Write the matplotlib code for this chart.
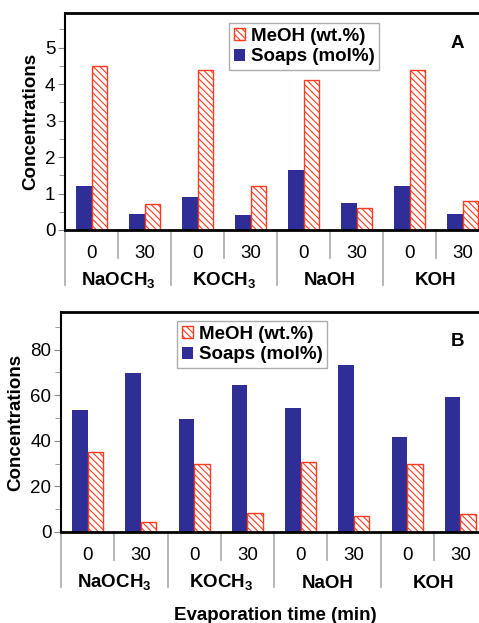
import matplotlib.pyplot as plt
import numpy as np
from matplotlib.ticker import MultipleLocator

plt.rcParams['font.family'] = ['Liberation Sans', 'DejaVu Sans']
plt.rcParams['mathtext.fontset'] = 'custom'
plt.rcParams['mathtext.rm'] = 'Liberation Sans'
plt.rcParams['mathtext.bf'] = 'Liberation Sans:bold'
plt.rcParams['hatch.linewidth'] = 0.8

catalysts = [r'NaOCH$_\mathbf{3}$', r'KOCH$_\mathbf{3}$', 'NaOH', 'KOH']
times = ['0', '30']

# panel A
soaps_a = [1.2, 0.45, 0.9, 0.42, 1.65, 0.75, 1.2, 0.45]
meoh_a = [4.5, 0.7, 4.4, 1.2, 4.1, 0.6, 4.4, 0.8]
# panel B
soaps_b = [53.5, 69.8, 49.7, 64.3, 54.5, 73.2, 41.8, 59.2]
meoh_b = [35.0, 4.2, 30.0, 8.5, 30.8, 6.8, 30.0, 7.8]

BLUE = '#2e2e96'
RED = '#ff3b1f'
W, H = 479, 623


def panel(rect_px, soaps, meoh, ymax, major, minor, tag, legend_px):
    l, t, r, b = rect_px
    ax = plt.axes([l / W, 1 - b / H, (r - l) / W, (b - t) / H])
    x = np.arange(len(soaps))
    bw = 0.29
    ax.bar(x - bw / 2, soaps, bw, color=BLUE, label='Soaps (mol%)', zorder=2)
    ax.bar(x + bw / 2, meoh, bw, color='white', edgecolor=RED, hatch='\\\\\\\\\\',
           linewidth=1.0, label='MeOH (wt.%)', zorder=2)
    ax.set_xlim(-0.5, len(soaps) - 0.5)
    ax.set_ylim(0, ymax)
    ax.yaxis.set_major_locator(MultipleLocator(major))
    ax.yaxis.set_minor_locator(MultipleLocator(minor))
    ax.tick_params(axis='y', which='both', direction='out', color='#888888',
                   labelsize=13.5, pad=2)
    ax.tick_params(axis='y', which='major', length=5)
    ax.tick_params(axis='y', which='minor', length=4)
    ax.set_xticks([])
    ax.spines['right'].set_visible(False)
    ax.spines['top'].set_linewidth(2)
    ax.spines['left'].set_linewidth(1.5)
    ax.spines['bottom'].set_linewidth(2)
    ax.set_ylabel('Concentrations', fontsize=13.5, fontweight='bold', labelpad=4)

    h = b - t
    trans = ax.get_xaxis_transform()
    # category dividers below the axis
    for i in range(len(soaps) + 1):
        depth = 55 if i % 2 == 0 else 28
        ax.plot([i - 0.5, i - 0.5], [0, -depth / h], transform=trans,
                color='#aaaaaa', lw=1.2, clip_on=False)
    for i in range(len(soaps)):
        ax.text(i, -24 / h, times[i % 2], transform=trans, ha='center',
                va='center', fontsize=13.5)
    for g, name in enumerate(catalysts):
        ax.text(2 * g + 0.5, -51 / h, name, transform=trans, ha='center',
                va='center', fontsize=13.5, fontweight='bold')

    hs, ls = ax.get_legend_handles_labels()
    lx, ly = legend_px
    leg = ax.legend(hs[::-1], ls[::-1], loc='upper left',
                    bbox_to_anchor=((lx - l) / (r - l), (b - ly) / h),
                    prop={'weight': 'bold', 'size': 13.5}, frameon=True,
                    fancybox=False, edgecolor='#999999', handlelength=0.6,
                    handleheight=0.6, handletextpad=0.3, borderpad=0.25,
                    labelspacing=0.2, borderaxespad=0)
    leg.get_frame().set_linewidth(1.0)
    ax.text((457 - l) / (r - l), (b - tag[1]) / h, tag[0], transform=ax.transAxes,
            ha='center', va='center', fontsize=13.5, fontweight='bold')
    return ax


fig = plt.figure(figsize=(W / 100, H / 100), dpi=100)

panel((65, 13, 489, 230), soaps_a, meoh_a, 5.95, 1, 0.5, ('A', 43), (229, 23))
panel((61, 312, 487, 532), soaps_b, meoh_b, 96.5, 20, 10, ('B', 342), (177, 321))

fig.text(275 / W, 1 - 615 / H, 'Evaporation time (min)', ha='center', va='center',
         fontsize=13.5, fontweight='bold')

fig.savefig('out.png', dpi=100)
